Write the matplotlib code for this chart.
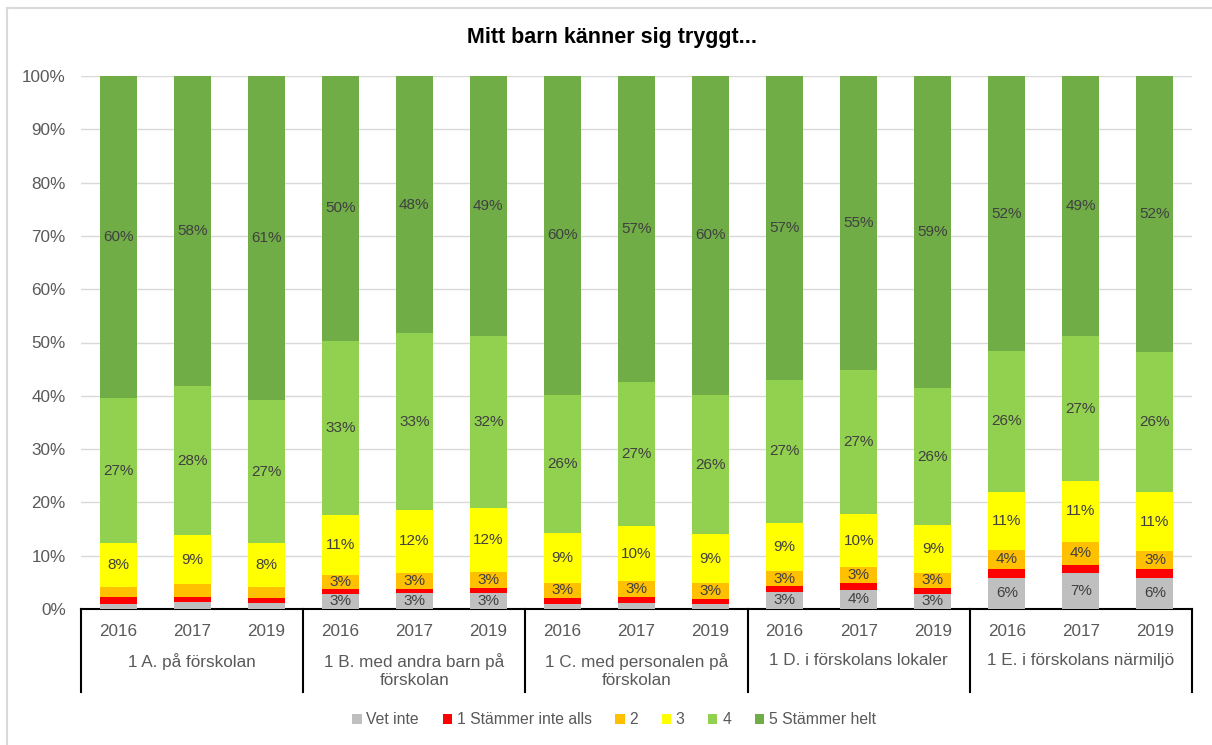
import numpy as np
import matplotlib.pyplot as plt
import matplotlib.transforms as mtransforms
from matplotlib.patches import Patch
from matplotlib.lines import Line2D

plt.rcParams['font.family'] = ['Liberation Sans', 'DejaVu Sans']

groups = ['1 A. på förskolan', '1 B. med andra barn på\nförskolan',
          '1 C. med personalen på\nförskolan', '1 D. i förskolans lokaler',
          '1 E. i förskolans närmiljö']
years = ['2016', '2017', '2019']
series = ['Vet inte', '1 Stämmer inte alls', '2', '3', '4', '5 Stämmer helt']
colors = ['#BFBFBF', '#FF0000', '#FFC000', '#FFFF00', '#92D050', '#70AD47']

# percentages per bar (group x year), order as in series
vet_inte = [1.0, 1.4, 1.2, 2.9, 3.0, 3.0, 1.0, 1.2, 0.9, 3.2, 3.6, 2.9, 5.9, 6.7, 5.9]
s1 = [1.3, 0.9, 0.8, 0.9, 0.8, 1.0, 1.1, 1.1, 1.0, 1.1, 1.2, 1.1, 1.6, 1.6, 1.6]
s2 = [1.8, 2.4, 2.2, 2.6, 3.0, 3.0, 2.8, 2.9, 2.9, 2.8, 3.0, 2.8, 3.6, 4.3, 3.3]
s3 = [8.2, 9.1, 8.1, 11.2, 11.8, 11.9, 9.4, 10.4, 9.2, 9.0, 10.0, 9.0, 10.9, 11.4, 11.2]
s4 = [27.3, 28.0, 26.9, 32.7, 33.1, 32.3, 25.9, 27.0, 26.2, 26.9, 27.1, 25.6, 26.4, 27.2, 26.3]
s5 = [60.4, 58.2, 60.8, 49.7, 48.3, 48.8, 59.8, 57.4, 59.8, 57.0, 55.1, 58.6, 51.6, 48.8, 51.7]

data = [vet_inte, s1, s2, s3, s4, s5]

fig = plt.figure(figsize=(12.12, 7.45), dpi=100)
W, H = 1212, 745
ax = fig.add_axes([81 / W, 1 - 609 / H, (1192 - 81) / W, (609 - 76) / H])

x = np.arange(len(vet_inte))
bottom = np.zeros(len(x))
for vals, col in zip(data, colors):
    vals = np.array(vals)
    ax.bar(x, vals, 0.5, bottom=bottom, color=col, zorder=3)
    for xi, b, v in zip(x, bottom, vals):
        if v >= 2.5:
            ax.text(xi, b + v / 2, f'{v:.0f}%', ha='center', va='center',
                    fontsize=11, color='#404040', zorder=4)
    bottom += vals

ax.set_xlim(-0.5, len(x) - 0.5)
ax.set_ylim(0, 100)
ax.set_yticks(np.arange(0, 101, 10))
ax.set_yticklabels([f'{v}%' for v in range(0, 101, 10)])
ax.tick_params(axis='y', length=0, labelsize=12.3, labelcolor='#595959', pad=11)
ax.set_xticks([])
ax.grid(axis='y', color='#D9D9D9', linewidth=1, zorder=0)
for s in ['top', 'right', 'left', 'bottom']:
    ax.spines[s].set_visible(False)

# two-level category axis
tr = mtransforms.blended_transform_factory(ax.transData, ax.transAxes)
yb = -83 / 533
ax.add_line(Line2D([-0.5, len(x) - 0.5], [0, 0], transform=tr, color='black',
                   linewidth=1.5, clip_on=False))
for k in range(len(groups) + 1):
    xv = k * 3 - 0.5
    ax.add_line(Line2D([xv, xv], [0, yb], transform=tr, color='black',
                       linewidth=1.5, clip_on=False))
for i in x:
    ax.text(i, -22 / 533, years[i % 3], transform=tr, ha='center', va='center',
            fontsize=12.3, color='#595959')
for k, g in enumerate(groups):
    ax.text(k * 3 + 1, -44 / 533, g, transform=tr, ha='center', va='top',
            fontsize=12.3, color='#595959', linespacing=1.25)

fig.text(612 / W, 1 - 38 / H, 'Mitt barn känner sig tryggt...', ha='center',
         va='center', fontsize=15.5, fontweight='bold', color='black')

handles = [Patch(facecolor=c, edgecolor='none') for c in colors]
fig.legend(handles, series, loc='center', bbox_to_anchor=(614 / W, 1 - 720 / H),
           ncol=6, frameon=False, fontsize=11.3, labelcolor='#595959',
           handlelength=0.6, handleheight=0.6, handletextpad=0.3, columnspacing=1.5)

# outer chart border (only left and top visible in reference)
fig.add_artist(Line2D([7 / W, 7 / W], [0, 1 - 8 / H], transform=fig.transFigure,
                      color='#D9D9D9', linewidth=1.5))
fig.add_artist(Line2D([7 / W, 1], [1 - 8 / H, 1 - 8 / H], transform=fig.transFigure,
                      color='#D9D9D9', linewidth=1.5))

fig.savefig('out.png', dpi=100)
